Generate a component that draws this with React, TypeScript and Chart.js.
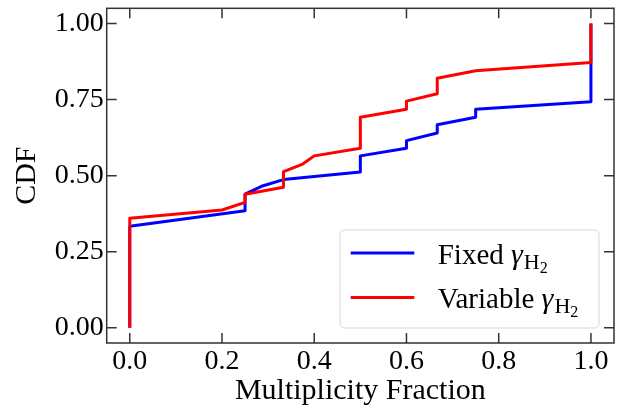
import React, { useEffect, useRef } from "react";
import { Chart, registerables } from "chart.js";

Chart.register(...registerables);

const X_TICKS = [0, 0.2, 0.4, 0.6, 0.8, 1.0];
const X_TICK_LABELS = ["0.0", "0.2", "0.4", "0.6", "0.8", "1.0"];
const Y_TICKS = [0, 0.25, 0.5, 0.75, 1.0];
const Y_TICK_LABELS = ["0.00", "0.25", "0.50", "0.75", "1.00"];

const FIXED_X = [0, 0, 0.25, 0.25, 0.2857, 0.3333, 0.5, 0.5, 0.6, 0.6, 0.6667, 0.6667, 0.75, 0.75, 1, 1];
const FIXED_Y = [0, 0.334, 0.385, 0.439, 0.465, 0.487, 0.512, 0.565, 0.59, 0.615, 0.64, 0.667, 0.692, 0.718, 0.743, 1.0];

const VARIABLE_X = [0, 0, 0.2, 0.25, 0.25, 0.3333, 0.3333, 0.375, 0.4, 0.5, 0.5, 0.6, 0.6, 0.6667, 0.6667, 0.75, 1, 1];
const VARIABLE_Y = [0, 0.36, 0.387, 0.412, 0.439, 0.462, 0.513, 0.538, 0.565, 0.59, 0.692, 0.718, 0.745, 0.769, 0.82, 0.845, 0.872, 1.0];

const SERIES_NAMES = ["Fixed", "Variable"];
const SERIES_COLORS = ["#0000ff", "#ff0000"];

const X_TITLE = "Multiplicity Fraction";
const Y_TITLE = "CDF";

const FONT = "'Liberation Serif', 'Times New Roman', serif";

const framePlugin = {
  id: "frameTicks",
  afterDatasetsDraw(chart: any) {
    const { ctx, chartArea } = chart;
    const { left, right, top, bottom } = chartArea;
    const xs = chart.scales.x;
    const ys = chart.scales.y;
    const tl = 10;
    ctx.save();
    ctx.strokeStyle = "#333333";
    ctx.lineWidth = 1.5;
    ctx.beginPath();
    X_TICKS.forEach((v) => {
      const px = xs.getPixelForValue(v);
      ctx.moveTo(px, bottom);
      ctx.lineTo(px, bottom - tl);
      ctx.moveTo(px, top);
      ctx.lineTo(px, top + tl);
    });
    Y_TICKS.forEach((v) => {
      const py = ys.getPixelForValue(v);
      ctx.moveTo(left, py);
      ctx.lineTo(left + tl, py);
      ctx.moveTo(right, py);
      ctx.lineTo(right - tl, py);
    });
    ctx.stroke();
    ctx.strokeRect(left, top, right - left, bottom - top);

    // legend
    const bw = 259;
    const bh = 98;
    const bx = right - 15 - bw;
    const by = bottom - 15 - bh;
    const r = 5;
    ctx.beginPath();
    ctx.moveTo(bx + r, by);
    ctx.lineTo(bx + bw - r, by);
    ctx.quadraticCurveTo(bx + bw, by, bx + bw, by + r);
    ctx.lineTo(bx + bw, by + bh - r);
    ctx.quadraticCurveTo(bx + bw, by + bh, bx + bw - r, by + bh);
    ctx.lineTo(bx + r, by + bh);
    ctx.quadraticCurveTo(bx, by + bh, bx, by + bh - r);
    ctx.lineTo(bx, by + r);
    ctx.quadraticCurveTo(bx, by, bx + r, by);
    ctx.closePath();
    ctx.fillStyle = "rgba(255,255,255,0.8)";
    ctx.fill();
    ctx.strokeStyle = "#d6d6d6";
    ctx.lineWidth = 1;
    ctx.stroke();

    SERIES_NAMES.forEach((name, i) => {
      const ly = by + 23 + i * 44.4;
      ctx.strokeStyle = SERIES_COLORS[i];
      ctx.lineWidth = 3;
      ctx.beginPath();
      ctx.moveTo(bx + 10.7, ly);
      ctx.lineTo(bx + 74.3, ly);
      ctx.stroke();

      const base = ly + 11;
      let tx = bx + 97.7;
      ctx.fillStyle = "#000000";
      ctx.textBaseline = "alphabetic";
      ctx.textAlign = "left";
      ctx.font = `29px ${FONT}`;
      const t1 = name + " ";
      ctx.fillText(t1, tx, base);
      tx += ctx.measureText(t1).width;
      ctx.font = `italic 30px ${FONT}`;
      ctx.fillText("γ", tx, base);
      tx += ctx.measureText("γ").width + 1;
      ctx.font = `22px ${FONT}`;
      ctx.fillText("H", tx, base + 5);
      tx += ctx.measureText("H").width;
      ctx.font = `16px ${FONT}`;
      ctx.fillText("2", tx, base + 9);
    });
    ctx.restore();
  },
};

export default function App() {
  const ref = useRef<HTMLCanvasElement | null>(null);
  useEffect(() => {
    document.body.style.margin = "0";
    const canvas = ref.current;
    if (!canvas) return;
    const chart = new Chart(canvas, {
      type: "line",
      data: {
        datasets: [
          {
            label: SERIES_NAMES[1],
            data: VARIABLE_X.map((x, i) => ({ x, y: VARIABLE_Y[i] })),
            borderColor: SERIES_COLORS[1],
            borderWidth: 3,
            pointRadius: 0,
            tension: 0,
            fill: false,
            order: 0,
            borderJoinStyle: "round",
          },
          {
            label: SERIES_NAMES[0],
            data: FIXED_X.map((x, i) => ({ x, y: FIXED_Y[i] })),
            borderColor: SERIES_COLORS[0],
            borderWidth: 3,
            pointRadius: 0,
            tension: 0,
            fill: false,
            order: 1,
            borderJoinStyle: "round",
          },
        ],
      },
      options: {
        animation: false,
        responsive: false,
        devicePixelRatio: 1,
        layout: { padding: { top: 8.3, right: 16, bottom: 0, left: 0 } },
        plugins: {
          legend: { display: false },
          tooltip: { enabled: false },
        },
        scales: {
          x: {
            type: "linear",
            min: -0.05,
            max: 1.05,
            grid: { display: false, drawTicks: false },
            border: { display: false },
            afterBuildTicks: (s: any) => {
              s.ticks = X_TICKS.map((v) => ({ value: v }));
            },
            afterFit: (s: any) => {
              s.height = 68;
              s.paddingLeft = 0;
              s.paddingRight = 0;
            },
            ticks: {
              padding: 2,
              color: "#000",
              font: { family: FONT, size: 28 },
              maxRotation: 0,
              autoSkip: false,
              callback: (_v: any, i: number) => X_TICK_LABELS[i],
            },
            title: {
              display: true,
              text: X_TITLE,
              color: "#000",
              font: { family: FONT, size: 30 },
              padding: { top: 0, bottom: 2 },
            },
          },
          y: {
            type: "linear",
            min: -0.05,
            max: 1.05,
            grid: { display: false, drawTicks: false },
            border: { display: false },
            afterBuildTicks: (s: any) => {
              s.ticks = Y_TICKS.map((v) => ({ value: v }));
            },
            afterFit: (s: any) => {
              s.width = 106.7;
              s.paddingTop = 0;
              s.paddingBottom = 0;
            },
            ticks: {
              padding: 3,
              color: "#000",
              font: { family: FONT, size: 28 },
              autoSkip: false,
              callback: (_v: any, i: number) => Y_TICK_LABELS[i],
            },
            title: {
              display: true,
              text: Y_TITLE,
              color: "#000",
              font: { family: FONT, size: 30 },
              padding: { top: 9, bottom: 0 },
            },
          },
        },
      },
      plugins: [framePlugin],
    } as any);
    return () => chart.destroy();
  }, []);
  return (
    <div style={{ width: 630, height: 411, background: "#fff" }}>
      <canvas ref={ref} width={630} height={411} style={{ width: 630, height: 411, display: "block" }} />
    </div>
  );
}
